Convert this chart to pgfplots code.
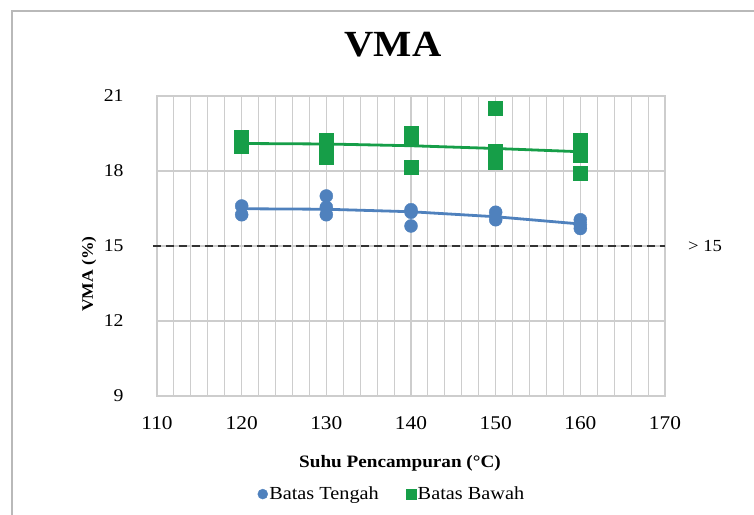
\documentclass[border=0pt]{standalone}
\usepackage{pgfplots}
\pgfplotsset{compat=1.18}
\usepackage{fontspec}
\setmainfont{Liberation Serif}[FakeStretch=1.1]
\definecolor{myblue}{RGB}{79,129,189}
\definecolor{mygreen}{RGB}{22,158,72}
\definecolor{gridgray}{RGB}{205,205,205}
\begin{document}
\begin{tikzpicture}[x=1bp,y=1bp]
\path[use as bounding box] (0,0) rectangle (754,515);
\draw[gray!55, line width=1.6bp] (12,-10) -- (12,504) -- (770,504);
\begin{axis}[
  at={(157bp,119bp)}, anchor=south west,
  scale only axis, width=508bp, height=300bp,
  xmin=110, xmax=170, ymin=9, ymax=21,
  xtick={110,120,...,170}, ytick={9,12,...,21},
  minor x tick num=4,
  xmajorgrids, xminorgrids, ymajorgrids,
  major grid style={gridgray, line width=1.2bp},
  minor grid style={gridgray, line width=1.0bp},
  axis line style={gridgray, line width=1.2bp},
  major tick style={draw=none}, minor tick style={draw=none},
  /pgf/number format/assume math mode=true,
  xticklabel style={font=\fontsize{19.5}{19.5}\selectfont, yshift=-17bp},
  yticklabel style={font=\fontsize{18}{18}\selectfont, xshift=-30bp},
  clip=false,
  legend style={at={(0.462,-0.327)}, anchor=center, draw=none, fill=none,
    font=\fontsize{18.5}{18.5}\selectfont, column sep=0bp,
    /tikz/every even column/.append style={column sep=26bp},
    nodes={inner xsep=1.5bp}},
  legend columns=2,
  legend cell align=left,
  legend image code/.code={\draw[#1, mark size=5bp] plot coordinates {(0.2cm,0cm)};},
]
\addplot[only marks, mark=*, mark size=6.5bp, color=myblue, mark options={draw=myblue, fill=myblue}]
  coordinates {(120,16.6)(120,16.25)(130,17.0)(130,16.55)(130,16.25)
               (140,16.45)(140,16.35)(140,15.8)(150,16.35)(150,16.05)
               (160,16.05)(160,15.85)(160,15.7)};
\addlegendentry{Batas Tengah}
\addplot[only marks, mark=square*, mark size=7bp, color=mygreen, mark options={draw=mygreen, fill=mygreen}]
  coordinates {(120,19.35)(120,19.0)(130,19.25)(130,18.85)(130,18.55)
               (140,19.5)(140,19.3)(140,18.15)(150,20.5)(150,18.8)(150,18.35)
               (160,19.25)(160,18.65)(160,17.9)};
\addlegendentry{Batas Bawah}
\addplot[no marks, myblue, line width=2.8bp, forget plot]
  coordinates {(120,16.49)(130,16.47)(140,16.37)(150,16.17)(160,15.88)};
\addplot[no marks, mygreen, line width=2.8bp, forget plot]
  coordinates {(120,19.1)(130,19.08)(140,19.01)(150,18.9)(160,18.77)};
\addplot[no marks, black!80, line width=2.8bp, dash pattern=on 8bp off 5bp, forget plot]
  coordinates {(109.5,15)(170,15)};
\end{axis}
\node[font=\fontsize{37}{37}\selectfont\bfseries] at (393,470) {VMA};
\node[font=\fontsize{17.5}{17.5}\selectfont\bfseries] at (400,52) {Suhu Pencampuran (°C)};
\node[font=\fontsize{16}{16}\selectfont\bfseries, rotate=90] at (89,241) {VMA (\%)};
\node[font=\fontsize{17}{17}\selectfont] at (705,269) {\textgreater\ 15};
\end{tikzpicture}
\end{document}
